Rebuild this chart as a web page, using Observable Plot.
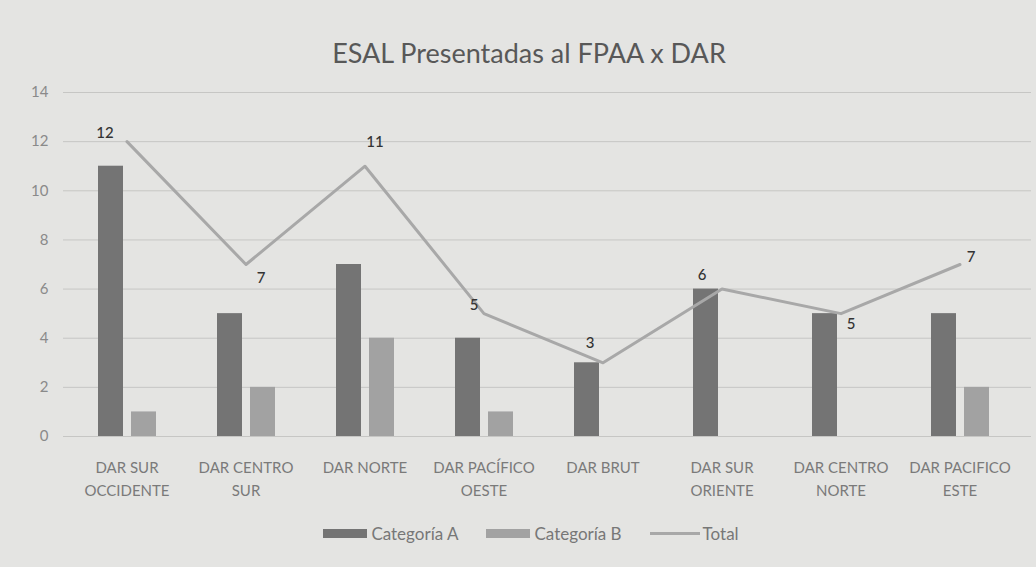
<!DOCTYPE html>
<html>
<head>
<meta charset="utf-8">
<script src="https://cdn.jsdelivr.net/npm/d3@7"></script>
<script src="https://cdn.jsdelivr.net/npm/@observablehq/plot@0.6"></script>
<style>
  body { margin: 0; background: #e4e4e2; font-family: Lato, "Open Sans", sans-serif; }
  #wrap { width: 1036px; height: 567px; overflow: hidden; position: relative; }
  #title { height: 80px; box-sizing: border-box; padding-top: 37px; padding-left: 22px; text-align: center;
           font-size: 27px; line-height: 32px; color: #585858; }
  #legend { display: flex; justify-content: center; align-items: center; height: 26px; padding-left: 26px;
            font-size: 17px; color: #777; }
  .item { display: flex; align-items: center; margin: 0 14px; }
  .sw { width: 44px; height: 9px; margin-right: 4px; }
  .ln { width: 50px; height: 3px; margin-right: 3px; }
</style>
</head>
<body>
<div id="wrap">
  <div id="title">ESAL Presentadas al FPAA x DAR</div>
  <div id="chart"></div>
  <div id="legend"></div>
</div>
<script>
const categories = ["DAR SUR OCCIDENTE", "DAR CENTRO SUR", "DAR NORTE", "DAR PACÍFICO OESTE",
                    "DAR BRUT", "DAR SUR ORIENTE", "DAR CENTRO NORTE", "DAR PACIFICO ESTE"];
const tickLabels = ["DAR SUR\nOCCIDENTE", "DAR CENTRO\nSUR", "DAR NORTE", "DAR PACÍFICO\nOESTE",
                    "DAR BRUT", "DAR SUR\nORIENTE", "DAR CENTRO\nNORTE", "DAR PACIFICO\nESTE"];
const categoriaA = [11, 5, 7, 4, 3, 6, 5, 5];
const categoriaB = [1, 2, 4, 1, 0, 0, 0, 2];
const total = [12, 7, 11, 5, 3, 6, 5, 7];
const yTicks = [0, 2, 4, 6, 8, 10, 12, 14];
const seriesNames = ["Categoría A", "Categoría B", "Total"];

// label placement (style): offsets of the Total data labels
const labelOffsets = [[-22, -8], [15, 14], [10, -24], [-10, -8], [-13, -20], [-20, -14], [10, 11], [11, -7]];

const colors = { a: "#747474", b: "#a2a2a2", total: "#a8a8a8" };

const rows = categories.map((c, i) => ({ category: c, a: categoriaA[i], b: categoriaB[i], total: total[i] }));

const chart = Plot.plot({
  width: 1036,
  height: 440,
  marginTop: 12,
  marginBottom: 84,
  marginLeft: 65,
  marginRight: 15,
  style: { background: "transparent", fontFamily: "Lato, sans-serif", overflow: "visible" },
  x: { type: "band", domain: categories, padding: 0, label: null },
  y: { domain: [0, 14], label: null },
  marks: [
    Plot.ruleY(yTicks, { stroke: "#c6c6c4", strokeWidth: 1, insetLeft: -2, insetRight: -10 }),
    Plot.barY(rows.filter(d => d.a > 0), { x: "category", y: "a", fill: colors.a, insetLeft: 31, insetRight: 63 }),
    Plot.barY(rows.filter(d => d.b > 0), { x: "category", y: "b", fill: colors.b, insetLeft: 64, insetRight: 30 }),
    Plot.line(rows, { x: "category", y: "total", stroke: colors.total, strokeWidth: 3 }),
    ...rows.map((r, i) => Plot.text([r], {
      x: "category", y: "total", text: d => String(d.total),
      dx: labelOffsets[i][0], dy: labelOffsets[i][1],
      fontSize: 15, fill: "#333", fontWeight: 500
    })),
    Plot.axisX({
      tickSize: 0, tickPadding: 21, fontSize: 15, lineHeight: 1.5, color: "#7a7a7a", label: null,
      tickFormat: d => tickLabels[categories.indexOf(d)]
    }),
    Plot.axisY({ ticks: yTicks, tickSize: 0, tickPadding: 17, fontSize: 15, color: "#8a8a8a", label: null })
  ]
});
document.getElementById("chart").appendChild(chart);

const legend = document.getElementById("legend");
const swatches = [colors.a, colors.b, colors.total];
seriesNames.forEach((name, i) => {
  const item = document.createElement("div");
  item.className = "item";
  const sw = document.createElement("div");
  sw.className = i < 2 ? "sw" : "ln";
  sw.style.background = swatches[i];
  const t = document.createElement("span");
  t.textContent = name;
  item.appendChild(sw);
  item.appendChild(t);
  legend.appendChild(item);
});
</script>
</body>
</html>
